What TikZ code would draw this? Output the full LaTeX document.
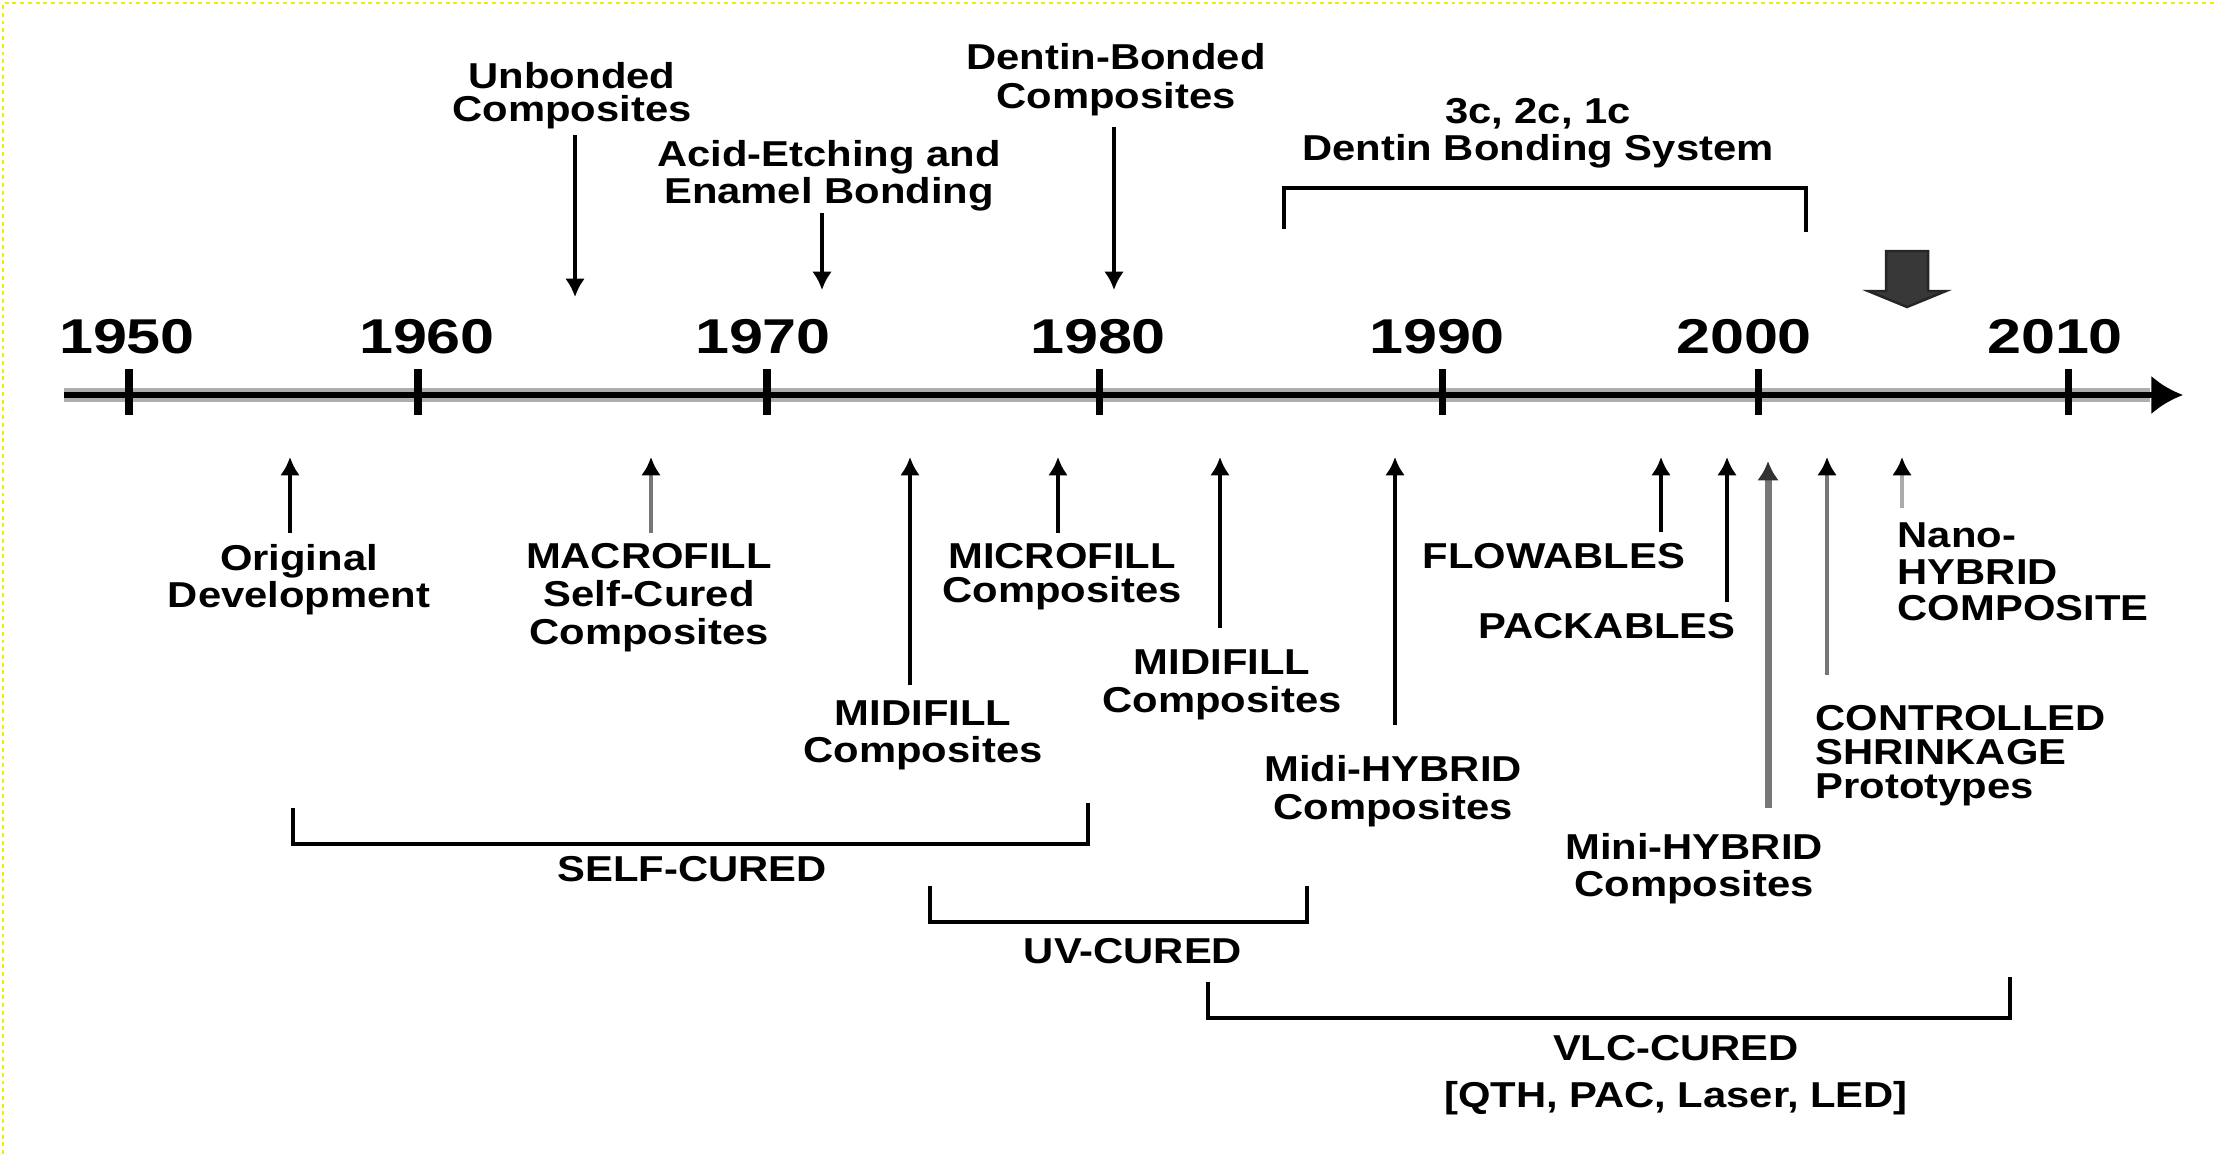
\documentclass[tikz,border=0pt]{standalone}
\usepackage{fontspec}
\setmainfont[FakeStretch=1.16]{Liberation Sans}
\newfontfamily\yearfont[FakeStretch=1.25]{Liberation Sans}
\usetikzlibrary{arrows.meta}
\definecolor{halo}{HTML}{AEAEAE}
\definecolor{midgray}{HTML}{777777}
\definecolor{litegray}{HTML}{ABABAB}
\definecolor{blockgray}{HTML}{383838}
\definecolor{dotyellow}{HTML}{F2EA00}
\tikzset{
  lbl/.style={font=\bfseries\fontsize{10.24}{#1}\selectfont, align=center, inner sep=0pt, anchor=north},
  lbl/.default=10.53,
  yearlbl/.style={font=\yearfont\bfseries\fontsize{13.9}{14}\selectfont, inner sep=0pt, anchor=north},
  evarrow/.style={line width=1.2pt, -{Latex[length=5.2pt,width=5.6pt,color=black]}},
  brk/.style={line width=1.4pt, line cap=rect},
  tick/.style={line width=2pt}
}
\begin{document}
\begin{tikzpicture}[x=0.01cm, y=-0.01cm]
\useasboundingbox (0,0) rectangle (2216,1154);
% dotted yellow frame (top and left)
\draw[dotyellow, line width=0.6pt, dash pattern=on 1.1pt off 1.1pt] (3,1154) -- (3,3) -- (2216,3);

% axis
\coordinate (axL) at (64,395);
\coordinate (axR) at (2183,395);
\coordinate (axH) at (2150,395);
\draw[halo, line width=4pt] (axL) -- (axH);
\draw[line width=1.5pt, -{Latex[length=9pt,width=11pt]}] (axL) -- (axR);

% ticks and years
\foreach \x/\yr/\lx in {129/1950/127, 418/1960/427, 767/1970/763, 1099/1980/1098, 1442/1990/1437, 1758/2000/1744, 2068/2010/2055}{
  \coordinate (t\yr a) at (\x,369);
  \coordinate (t\yr b) at (\x,415);
  \draw[tick] (t\yr a) -- (t\yr b);
  \node[yearlbl] (y\yr) at (\lx,319) {\yr};
}

% top labels
\node[lbl=9.39] (unb) at (572,62) {Unbonded\\Composites};
\node[lbl] (acid) at (829,140) {Acid-Etching and\\Enamel Bonding};
\node[lbl=11.1] (dent) at (1116,43) {Dentin-Bonded\\Composites};
\node[lbl] (dbs) at (1538,98) {3c, 2c, 1c\\Dentin Bonding System};

% top arrows
\coordinate (unbS) at (575,135);  \coordinate (unbT) at (575,297);
\coordinate (acidS) at (822,213); \coordinate (acidT) at (822,290);
\coordinate (dentS) at (1114,127); \coordinate (dentT) at (1114,290);
\draw[evarrow] (unbS) -- (unbT);
\draw[evarrow] (acidS) -- (acidT);
\draw[evarrow] (dentS) -- (dentT);

% top bracket
\coordinate (dbL1) at (1284,227); \coordinate (dbL2) at (1284,188);
\coordinate (dbR2) at (1806,188); \coordinate (dbR1) at (1806,230);
\draw[brk] (dbL1) -- (dbL2) -- (dbR2) -- (dbR1);

% block arrow
\fill[blockgray, draw=black!85, line width=0.7pt, line join=miter]
  (1886,251) -- (1928,251) -- (1928,291) -- (1946,291) -- (1907,307) -- (1868,291) -- (1886,291) -- cycle;

% bottom labels
\node[lbl=10.53] (orig) at (299,544) {Original\\Development};
\node[lbl=10.81] (macro) at (649,543) {MACROFILL\\Self-Cured\\Composites};
\node[lbl] (midiA) at (923,700) {MIDIFILL\\Composites};
\node[lbl=9.67] (micro) at (1062,543) {MICROFILL\\Composites};
\node[lbl=10.81] (midiB) at (1222,649) {MIDIFILL\\Composites};
\node[lbl=10.81] (midih) at (1393,755) {Midi-HYBRID\\Composites};
\node[lbl] (flow) at (1554,543) {FLOWABLES};
\node[lbl] (pack) at (1607,613) {PACKABLES};
\node[lbl] (minih) at (1694,833) {Mini-HYBRID\\Composites};
\node[lbl=9.67, anchor=north west, align=left] (ctrl) at (1815,705) {CONTROLLED\\SHRINKAGE\\Prototypes};
\node[lbl=10.39, anchor=north west, align=left] (nano) at (1897,522) {Nano-\\HYBRID\\COMPOSITE};

% bottom arrows (pointing up to the axis)
\coordinate (origS) at (290,533);  \coordinate (origT) at (290,457);
\coordinate (macroS) at (651,533); \coordinate (macroT) at (651,457);
\coordinate (midiAS) at (910,685); \coordinate (midiAT) at (910,457);
\coordinate (microS) at (1058,533); \coordinate (microT) at (1058,457);
\coordinate (midiBS) at (1220,628); \coordinate (midiBT) at (1220,457);
\coordinate (midihS) at (1395,725); \coordinate (midihT) at (1395,457);
\coordinate (flowS) at (1661,532); \coordinate (flowT) at (1661,457);
\coordinate (packS) at (1727,602); \coordinate (packT) at (1727,457);
\coordinate (minihS) at (1768,808); \coordinate (minihT) at (1768,461);
\coordinate (ctrlS) at (1827,675); \coordinate (ctrlT) at (1827,457);
\coordinate (nanoS) at (1902,508); \coordinate (nanoT) at (1902,457);
\draw[evarrow] (origS) -- (origT);
\draw[evarrow, midgray] (macroS) -- (macroT);
\draw[evarrow] (midiAS) -- (midiAT);
\draw[evarrow] (microS) -- (microT);
\draw[evarrow] (midiBS) -- (midiBT);
\draw[evarrow] (midihS) -- (midihT);
\draw[evarrow] (flowS) -- (flowT);
\draw[evarrow] (packS) -- (packT);
\draw[evarrow, midgray, line width=2pt, -{Latex[length=5.5pt,width=6.2pt,color=black!80]}] (minihS) -- (minihT);
\draw[evarrow, midgray] (ctrlS) -- (ctrlT);
\draw[evarrow, litegray] (nanoS) -- (nanoT);

% curing brackets
\coordinate (scL1) at (293,810); \coordinate (scL2) at (293,844);
\coordinate (scR2) at (1088,844); \coordinate (scR1) at (1088,805);
\draw[brk] (scL1) -- (scL2) -- (scR2) -- (scR1);
\node[lbl] (self) at (692,856) {SELF-CURED};

\coordinate (uvL1) at (930,888); \coordinate (uvL2) at (930,922);
\coordinate (uvR2) at (1307,922); \coordinate (uvR1) at (1307,888);
\draw[brk] (uvL1) -- (uvL2) -- (uvR2) -- (uvR1);
\node[lbl] (uv) at (1133,938) {UV-CURED};

\coordinate (vlL1) at (1208,984); \coordinate (vlL2) at (1208,1018);
\coordinate (vlR2) at (2010,1018); \coordinate (vlR1) at (2010,979);
\draw[brk] (vlL1) -- (vlL2) -- (vlR2) -- (vlR1);
\node[lbl=13.37] (vlc) at (1676,1035) {VLC-CURED\\{[}QTH, PAC, Laser, LED{]}};
\end{tikzpicture}
\end{document}
